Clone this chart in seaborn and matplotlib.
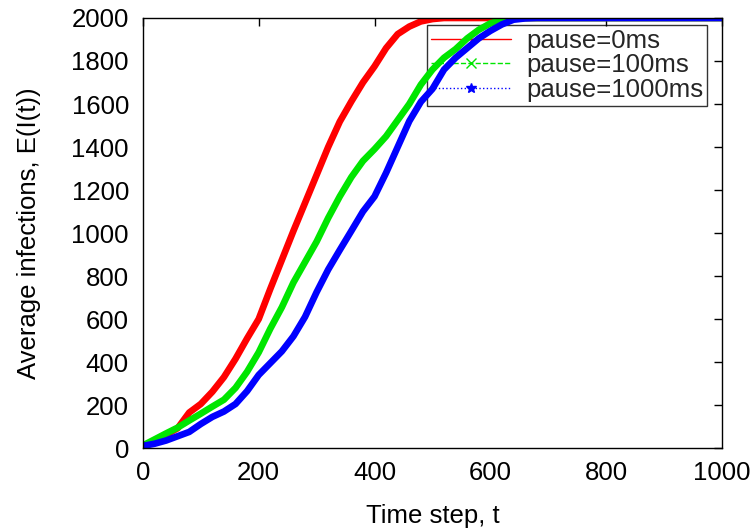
import matplotlib
matplotlib.use("Agg")
import matplotlib.pyplot as plt
from matplotlib.lines import Line2D
import seaborn as sns
import pandas as pd

# ---- data ----
t_steps = [0, 20, 40, 60, 80, 100, 120, 140, 160, 180, 200, 220, 240, 260, 280,
           300, 320, 340, 360, 380, 400, 420, 440, 460, 480, 500, 520, 540, 560,
           580, 600, 620, 640, 660, 680, 700, 800, 900, 1000]

pause_0ms = [12, 30, 62, 92, 165, 205, 262, 330, 415, 510, 600, 740, 875, 1010, 1140,
             1270, 1400, 1518, 1612, 1700, 1775, 1860, 1925, 1960, 1984, 1995, 2000, 2000, 2000,
             2000, 2000, 2000, 2000, 2000, 2000, 2000, 2000, 2000, 2000]

pause_100ms = [12, 40, 68, 95, 128, 160, 193, 225, 280, 355, 445, 555, 655, 770, 865,
               960, 1070, 1170, 1260, 1335, 1390, 1450, 1525, 1600, 1690, 1760, 1815, 1855, 1905,
               1945, 1975, 1990, 1998, 2000, 2000, 2000, 2000, 2000, 2000]

pause_1000ms = [10, 20, 35, 55, 75, 112, 145, 170, 205, 265, 340, 395, 450, 520, 610,
                725, 830, 921, 1010, 1100, 1170, 1280, 1400, 1520, 1610, 1670, 1760, 1815, 1860,
                1905, 1940, 1970, 1992, 1998, 2000, 2000, 2000, 2000, 2000]

series_labels = ["pause=0ms", "pause=100ms", "pause=1000ms"]
series_colors = ["#ff0000", "#00e600", "#0000ff"]
series_markers = ["+", "x", "*"]
series_styles = ["-", "--", ":"]

x_ticks = [0, 200, 400, 600, 800, 1000]
y_ticks = [0, 200, 400, 600, 800, 1000, 1200, 1400, 1600, 1800, 2000]

df = pd.concat([
    pd.DataFrame({"t": t_steps, "value": vals, "series": lab})
    for vals, lab in zip([pause_0ms, pause_100ms, pause_1000ms], series_labels)
])

# ---- styling ----
sns.set_theme(style="white")
plt.rcParams["font.family"] = ["Liberation Sans", "DejaVu Sans"]
plt.rcParams["axes.edgecolor"] = "black"
plt.rcParams["axes.linewidth"] = 1.0

FS = 18.5

fig = plt.figure(figsize=(7.56, 5.29), dpi=100)
ax = fig.add_axes([0.189, 0.153, 0.766, 0.813])

sns.lineplot(data=df, x="t", y="value", hue="series", hue_order=series_labels,
             palette=series_colors, linewidth=4.8, legend=False, ax=ax,
             solid_capstyle="butt")

ax.set_xlim(0, 1000)
ax.set_ylim(0, 2000)
ax.set_xticks(x_ticks)
ax.set_yticks(y_ticks)
ax.tick_params(axis="both", which="major", direction="in", length=6, width=1,
               top=True, right=True, labelsize=FS, color="black", labelcolor="black")
ax.tick_params(axis="x", pad=9)
ax.tick_params(axis="y", pad=10)
for sp in ax.spines.values():
    sp.set_color("black")
    sp.set_linewidth(1.0)

ax.set_xlabel("Time step, t", fontsize=FS, color="black", labelpad=14)
ax.set_ylabel("Average infections, E(I(t))", fontsize=FS, color="black", labelpad=22)

handles = [Line2D([0, 0.5, 1], [0, 0, 0], color=c, linestyle=ls, marker=m, markersize=7,
                  markevery=[1], linewidth=1.0)
           for c, ls, m in zip(series_colors, series_styles, series_markers)]
leg = ax.legend(handles, series_labels, loc="upper right",
                bbox_to_anchor=(0.974, 0.984), fontsize=FS, frameon=True,
                fancybox=False, handlelength=3.1, handletextpad=0.6,
                labelspacing=0.02, borderpad=0.15, borderaxespad=0.0)
leg.get_frame().set_edgecolor("black")
leg.get_frame().set_linewidth(1.0)
leg.get_frame().set_facecolor("none")
leg.set_zorder(1)

fig.savefig("out.png", dpi=100)
